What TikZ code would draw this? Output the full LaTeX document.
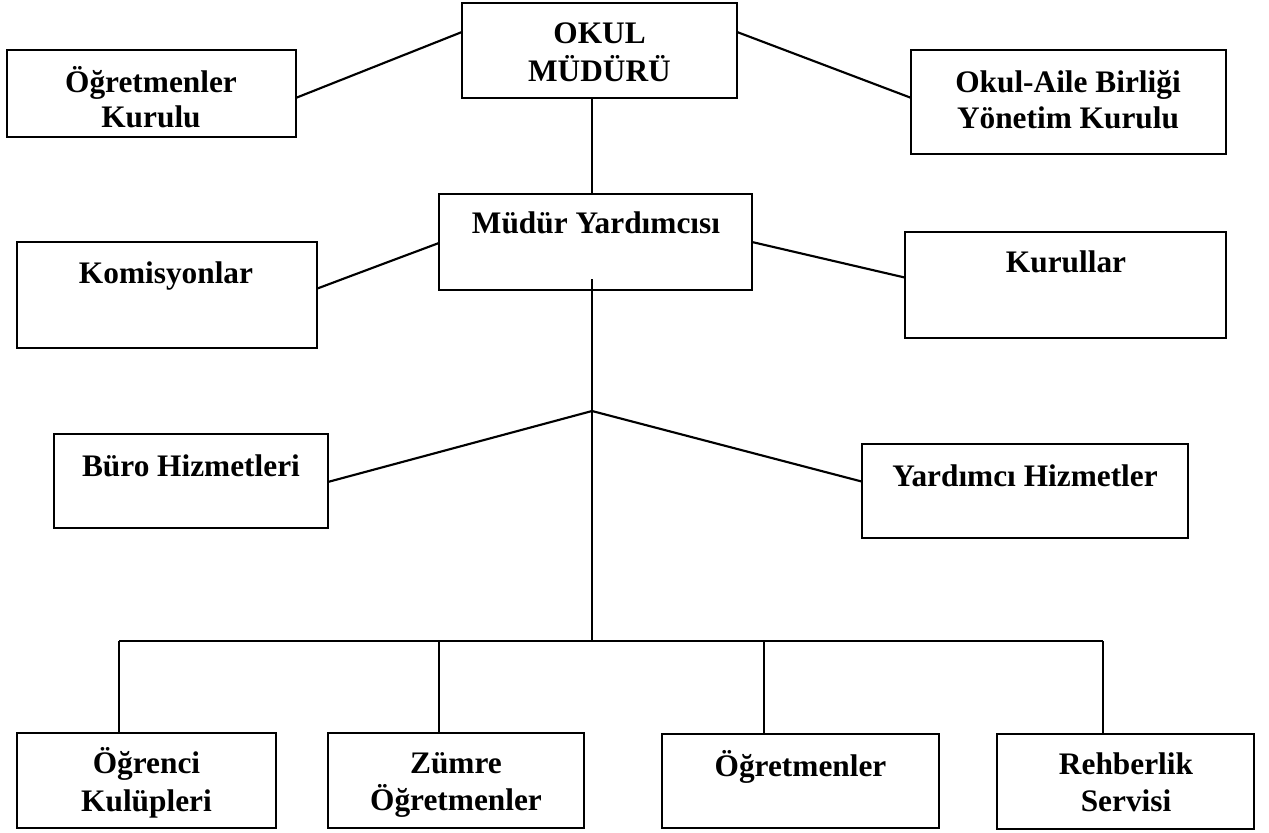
\documentclass[tikz,border=0pt]{standalone}
\usepackage{fontspec}
\setmainfont{Liberation Serif}
\usetikzlibrary{calc}
\begin{document}
\begin{tikzpicture}[x=0.75pt,y=-0.75pt,
  bx/.style 2 args={draw, line width=1.6pt, rectangle, inner sep=0pt, outer sep=0pt,
    minimum width=#1*0.75pt, minimum height=#2*0.75pt},
  tx/.style={anchor=base, inner sep=0pt, font=\fontsize{23.5}{28}\selectfont\bfseries},
  ln/.style={line width=1.6pt}]
\useasboundingbox (0,0) rectangle (1269,832);

% boxes
\node[bx={275}{95}]  (okm)  at (599.5,50.5) {};
\node[bx={289}{87}]  (ogk)  at (151.5,93.5) {};
\node[bx={315}{104}] (oab)  at (1068.5,102) {};
\node[bx={313}{96}]  (my)   at (595.5,242) {};
\node[bx={300}{106}] (kom)  at (167,295) {};
\node[bx={321}{106}] (kur)  at (1065.5,285) {};
\node[bx={274}{94}]  (buro) at (191,481) {};
\node[bx={326}{94}]  (yh)   at (1025,491) {};
\node[bx={259}{95}]  (ogr)  at (146.5,780.5) {};
\node[bx={256}{95}]  (zum)  at (456,780.5) {};
\node[bx={277}{94}]  (ogt)  at (800.5,781) {};
\node[bx={257}{95}]  (reh)  at (1125.5,781.5) {};

% texts
\node[tx] (okm1) at (599.5,43) {OKUL};
\node[tx] (okm2) at (599.5,81) {MÜDÜRÜ};
\node[tx] (ogk1) at (151,92) {Öğretmenler};
\node[tx] (ogk2) at (151,127) {Kurulu};
\node[tx] (oab1) at (1068,92) {Okul-Aile Birliği};
\node[tx] (oab2) at (1068,128) {Yönetim Kurulu};
\node[tx] (my1)  at (596,233) {Müdür Yardımcısı};
\node[tx] (kom1) at (166,283) {Komisyonlar};
\node[tx] (kur1) at (1066,272) {Kurullar};
\node[tx] (buro1) at (191,476) {Büro Hizmetleri};
\node[tx] (yh1)  at (1025,486) {Yardımcı Hizmetler};
\node[tx] (ogr1) at (146.5,773) {Öğrenci};
\node[tx] (ogr2) at (146.5,811) {Kulüpleri};
\node[tx] (zum1) at (456,773) {Zümre};
\node[tx] (zum2) at (456,810) {Öğretmenler};
\node[tx] (ogt1) at (800.5,776) {Öğretmenler};
\node[tx] (reh1) at (1126,774) {Rehberlik};
\node[tx] (reh2) at (1126,811) {Servisi};

% helper coordinates
\coordinate (trunk) at (592,0);
\coordinate (mytop) at (592,279);
\coordinate (br) at (592,411);
\coordinate (bus) at (592,641);
\coordinate (busL) at (119,641);
\coordinate (busR) at (1103,641);
\coordinate (d2) at (439,641);
\coordinate (d3) at (764,641);

% connectors
\draw[ln] ($(ogk.north east)!0.55!(ogk.south east)$) -- ($(okm.north west)!0.305!(okm.south west)$);
\draw[ln] ($(okm.north east)!0.305!(okm.south east)$) -- ($(oab.north west)!0.46!(oab.south west)$);
\draw[ln] (okm.south -| trunk) -- (my.north -| trunk);
\draw[ln] ($(my.north west)!0.51!(my.south west)$) -- ($(kom.north east)!0.44!(kom.south east)$);
\draw[ln] (my.east) -- ($(kur.north west)!0.43!(kur.south west)$);
\draw[ln] (mytop) -- (br) -- (bus);
\draw[ln] (br) -- ($(buro.north east)!0.51!(buro.south east)$);
\draw[ln] (br) -- ($(yh.north west)!0.40!(yh.south west)$);
\draw[ln] (busL) -- (busR);
\draw[ln] (busL) -- (busL |- ogr.north);
\draw[ln] (d2) -- (d2 |- zum.north);
\draw[ln] (d3) -- (d3 |- ogt.north);
\draw[ln] (busR) -- (busR |- reh.north);
\end{tikzpicture}
\end{document}
